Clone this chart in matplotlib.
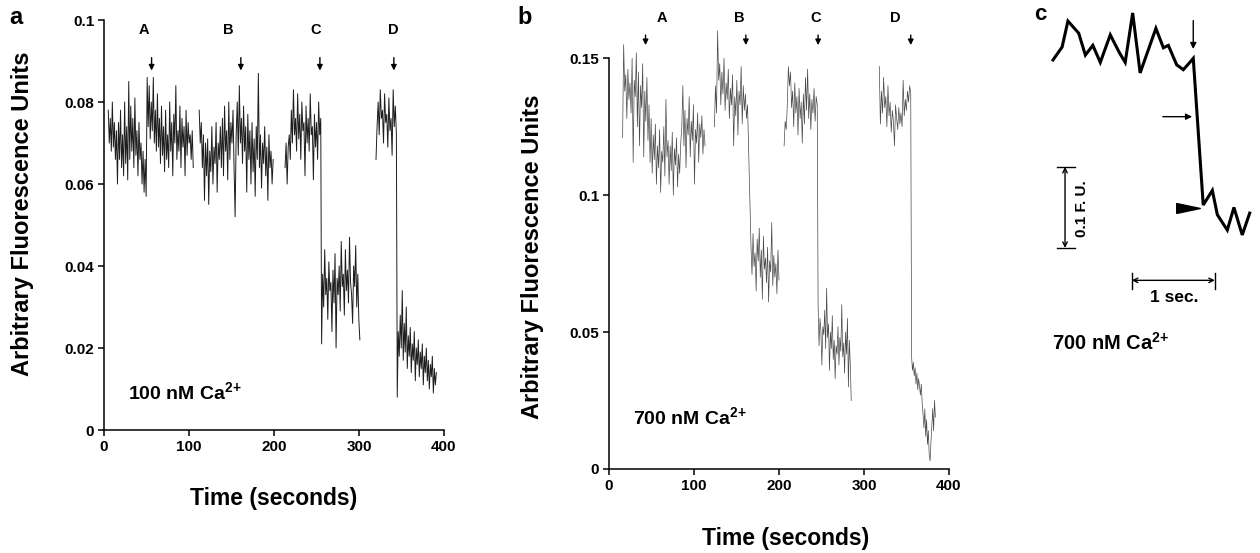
import numpy as np
import matplotlib.pyplot as plt
from matplotlib.ticker import FixedLocator, FixedFormatter

plt.rcParams['font.family'] = ['Liberation Sans', 'DejaVu Sans']
plt.rcParams['font.weight'] = 'bold'
plt.rcParams['mathtext.fontset'] = 'custom'
plt.rcParams['mathtext.rm'] = 'Liberation Sans:bold'
plt.rcParams['mathtext.bf'] = 'Liberation Sans:bold'
plt.rcParams['mathtext.it'] = 'Liberation Sans:bold'

# ---- panel a, 100 nM Ca2+ (values in 1e-3 fluorescence units) ----
a_A_span = (5, 105)
a_A = [78, 70, 76, 68, 80, 69, 75, 66,
       73, 60, 75, 66, 78, 64, 72, 62, 80, 65, 74, 61,
       85, 66, 79, 68, 76, 64, 81, 67, 73, 62, 75, 66,
       70, 60, 68, 58, 66, 57,
       86, 74, 84, 71, 80, 73, 86, 70, 78, 68, 82,
       69, 76, 65, 79, 67, 74, 63, 78, 66, 72, 64, 80, 68, 75, 62, 77, 70, 84,
       66, 73, 68, 79, 64, 76, 69, 74, 62, 78, 67, 75, 70, 72, 66, 73, 64]
a_B_span = (112, 199)
a_B = [78, 70, 75, 64, 72, 56, 70,
       62, 71, 55, 68, 63, 74, 60, 69, 65, 75, 58, 70,
       66, 74, 64, 76, 62, 79, 68, 73, 61, 80, 66, 75,
       70, 78, 64, 52, 72, 80, 67, 84, 70, 76, 65, 79,
       68, 74, 58, 77, 66, 73, 60, 75, 63, 71, 57, 74,
       66, 87, 64, 72, 59, 70, 65, 74, 62, 69, 56, 72, 64, 68, 60, 66]
a_C_hi_span = (213, 255)
a_C_hi = [64, 70, 60, 69, 72, 66, 78, 70, 83, 72, 76, 68, 82, 71, 77, 66, 80, 73,
          75, 62, 79, 70, 76, 68, 82, 72, 74, 61, 77, 69, 75, 66, 80, 72, 76]
a_C_lo_span = (256, 301)
a_C_lo = [21, 38, 30, 44, 33, 37, 27, 41, 34, 36, 24, 39, 31, 43, 20, 37, 33, 40, 29,
          46, 35, 38, 28, 44, 34, 39, 31, 47, 36, 33, 26, 40, 35, 45, 30, 38, 27, 22]
a_D_hi_span = (320, 344)
a_D_hi = [66, 74, 80, 72, 83, 76, 78, 70, 82, 75, 77, 69, 81, 73, 76, 67, 83, 74, 79, 72]
a_D_lo_span = (345, 391)
a_D_lo = [8, 24, 18, 28, 20, 34, 17, 26, 19, 30, 15, 23, 18, 25, 14, 21, 17, 24, 12, 20,
          16, 22, 13, 19, 15, 21, 11, 18, 14, 20, 12, 17, 10, 16, 13, 18, 9, 15, 11, 14]
a_arrow_t = [56, 161, 254, 341]
a_label_t = [46.5, 146.5, 249, 340.7]

# ---- panel b, 700 nM Ca2+ ----
b_A_span = (16, 113)
b_A = [121, 155, 138, 144, 128, 146, 135, 141,
       130, 150, 112, 142, 136, 152, 125, 145, 118, 140, 132, 148, 114, 138, 127, 143,
       120, 133, 112, 128,
       108, 122, 113, 126, 104, 118, 110, 124, 101, 116, 112, 125, 107, 135, 114, 120,
       104, 118, 109, 123, 100, 117, 111, 121, 103, 115, 108, 119,
       125, 140, 118, 131, 110, 128, 122, 136, 114, 127, 120, 133, 104, 124, 119, 130,
       112, 126, 121, 129, 115, 124, 118]
b_B_hi_span = (124, 163)
b_B_hi = [125, 140, 130, 160, 142, 148, 133, 145, 137, 150, 131, 141, 135, 146, 128, 139,
          133, 144, 118, 136, 129, 142, 122, 138, 133, 147, 126, 140, 131, 137, 128, 133]
b_B_lo_span = (167, 200)
b_B_lo = [82, 71, 86, 74, 79, 65, 84, 76, 88, 70, 80, 62, 85, 73, 77, 68, 81, 61, 76, 72,
          90, 67, 78, 70, 75, 64, 80, 69]
b_C_hi_span = (206, 245)
b_C_hi = [118, 127, 124, 133, 147, 140, 145, 132, 138, 125, 141, 130, 136, 122, 139, 128,
          134, 119, 137, 126, 143, 131, 146, 128, 137, 124, 135, 130, 139, 127, 136, 133]
b_C_lo_span = (246, 285)
b_C_lo = [60, 45, 55, 50, 38, 52, 49, 58, 44, 66, 48, 53, 36, 50, 44, 56, 40, 47, 33, 45,
          42, 52, 38, 48, 43, 60, 41, 46, 35, 50, 42, 55, 30, 47, 38, 25]
b_D_hi_span = (318, 355)
b_D_hi = [147, 126, 138, 130, 143, 132, 136, 125, 140, 129, 134, 123, 131, 127, 118, 133,
          128, 124, 132, 126, 130, 125, 142, 129, 135, 131, 138, 134, 140, 137]
b_D_lo_span = (356, 384)
b_D_lo = [41, 36, 39, 34, 37, 31, 35, 29, 33, 30, 27, 31, 24, 20, 15, 22, 12, 18, 9, 14,
          5, 3, 10, 16, 22, 14, 25, 19]
b_arrow_t = [43, 161, 246, 355]
b_label_t = [62, 153.6, 242.7, 336.5]

# ---- panel c, fast time course of one step (seconds, F.U.) ----
c_t = [0.00, 0.11, 0.18, 0.31, 0.39, 0.48, 0.57, 0.69, 0.80, 0.87, 0.96, 1.05, 1.24,
       1.33, 1.39, 1.49, 1.57, 1.64, 1.69, 1.81, 1.92, 1.98, 2.10, 2.18, 2.28, 2.37]
c_fu = [0.126, 0.142, 0.174, 0.159, 0.132, 0.144, 0.123, 0.157, 0.135, 0.123, 0.184,
        0.110, 0.165, 0.141, 0.144, 0.120, 0.114, 0.122, 0.128, -0.053, -0.035, -0.065,
        -0.084, -0.056, -0.090, -0.063]

step_labels = ['A', 'B', 'C', 'D']
ca_sup = '$^{2{+}}$'


def trace(*pieces):
    ts, ys = [], []
    for (t0, t1), v in pieces:
        ts.append(np.linspace(t0, t1, len(v)))
        ys.append(np.array(v) * 1e-3)
    return np.concatenate(ts), np.concatenate(ys)


fig = plt.figure(figsize=(12.6, 5.53), dpi=100)

ax_a = fig.add_axes([0.08254, 0.22242, 0.26984, 0.74141])
ax_b = fig.add_axes([0.48333, 0.15190, 0.26984, 0.74268])
ax_c = fig.add_axes([0.81746, 0.31284, 0.18254, 0.68716])


def style(ax, ymax, yticks, ylabels):
    ax.set_xlim(0, 400)
    ax.set_ylim(0, ymax)
    for s in ['top', 'right']:
        ax.spines[s].set_visible(False)
    for s in ['left', 'bottom']:
        ax.spines[s].set_linewidth(1.1)
    ax.xaxis.set_major_locator(FixedLocator([0, 100, 200, 300, 400]))
    ax.yaxis.set_major_locator(FixedLocator(yticks))
    ax.yaxis.set_major_formatter(FixedFormatter(ylabels))
    ax.tick_params(direction='out', length=4, width=1.1, labelsize=11, pad=3)
    for lab in ax.get_xticklabels() + ax.get_yticklabels():
        lab.set_fontweight('bold')


# panel a
style(ax_a, 0.1, [0, 0.02, 0.04, 0.06, 0.08, 0.1],
      ['0', '0.02', '0.04', '0.06', '0.08', '0.1'])
for pieces in [[(a_A_span, a_A)], [(a_B_span, a_B)],
               [(a_C_hi_span, a_C_hi), (a_C_lo_span, a_C_lo)],
               [(a_D_hi_span, a_D_hi), (a_D_lo_span, a_D_lo)]]:
    t, y = trace(*pieces)
    ax_a.plot(t, y, color='#1e1e1e', lw=0.7)
for t, lab, tl in zip(a_arrow_t, step_labels, a_label_t):
    ax_a.annotate('', xy=(t, 0.0870), xytext=(t, 0.0915),
                  arrowprops=dict(arrowstyle='-|>', lw=1.0, color='k', mutation_scale=8))
    ax_a.text(tl, 0.0975, lab, ha='center', va='center', fontsize=10.5, fontweight='bold')
ax_a.text(28, 0.0093, '100 nM Ca' + ca_sup, ha='left', va='center', fontsize=14,
          fontweight='bold')
ax_a.set_ylabel('Arbitrary Fluorescence Units', fontsize=17, fontweight='bold')
ax_a.yaxis.set_label_coords(-0.206, 0.527)
ax_a.set_xlabel('Time (seconds)', fontsize=16.5, fontweight='bold')
ax_a.xaxis.set_label_coords(0.5, -0.139)

# panel b
style(ax_b, 0.15, [0, 0.05, 0.1, 0.15], ['0', '0.05', '0.1', '0.15'])
for pieces in [[(b_A_span, b_A)],
               [(b_B_hi_span, b_B_hi), (b_B_lo_span, b_B_lo)],
               [(b_C_hi_span, b_C_hi), (b_C_lo_span, b_C_lo)],
               [(b_D_hi_span, b_D_hi), (b_D_lo_span, b_D_lo)]]:
    t, y = trace(*pieces)
    ax_b.plot(t, y, color='#4a4a4a', lw=0.5, clip_on=False)
for t, lab, tl in zip(b_arrow_t, step_labels, b_label_t):
    ax_b.annotate('', xy=(t, 0.1538), xytext=(t, 0.1595), annotation_clip=False,
                  arrowprops=dict(arrowstyle='-|>', lw=1.0, color='k', mutation_scale=8))
    ax_b.text(tl, 0.1647, lab, ha='center', va='center', fontsize=10.5, fontweight='bold',
              clip_on=False)
ax_b.text(28, 0.019, '700 nM Ca' + ca_sup, ha='left', va='center', fontsize=14,
          fontweight='bold')
ax_b.set_ylabel('Arbitrary Fluorescence Units', fontsize=17, fontweight='bold')
ax_b.yaxis.set_label_coords(-0.191, 0.516)
ax_b.set_xlabel('Time (seconds)', fontsize=16.5, fontweight='bold')
ax_b.xaxis.set_label_coords(0.52, -0.141)

# panel c
ax_c.set_xlim(-0.277, 2.494)
ax_c.set_ylim(-0.269, 0.20)
ax_c.axis('off')
ax_c.plot(c_t, c_fu, color='k', lw=2.2, solid_joinstyle='miter')
# scale bars
ax_c.annotate('', xy=(0.145, -0.006), xytext=(0.145, -0.106),
              arrowprops=dict(arrowstyle='<->', lw=1.0, color='k', mutation_scale=8,
                              shrinkA=0, shrinkB=0))
ax_c.plot([0.05, 0.265], [-0.006, -0.006], color='k', lw=1.0)
ax_c.plot([0.05, 0.265], [-0.106, -0.106], color='k', lw=1.0)
ax_c.text(0.35, -0.058, '0.1 F. U.', rotation=90, ha='center', va='center', fontsize=11,
          fontweight='bold')
ax_c.annotate('', xy=(0.95, -0.146), xytext=(1.95, -0.146),
              arrowprops=dict(arrowstyle='<->', lw=1.0, color='k', mutation_scale=8,
                              shrinkA=0, shrinkB=0))
ax_c.plot([0.95, 0.95], [-0.137, -0.157], color='k', lw=1.0)
ax_c.plot([1.95, 1.95], [-0.137, -0.157], color='k', lw=1.0)
ax_c.text(1.46, -0.167, '1 sec.', ha='center', va='center', fontsize=12.5, fontweight='bold')
ax_c.text(-0.01, -0.223, '700 nM Ca' + ca_sup, ha='left', va='center', fontsize=14.5,
          fontweight='bold')
# event markers
ax_c.annotate('', xy=(1.69, 0.136), xytext=(1.69, 0.178),
              arrowprops=dict(arrowstyle='-|>', lw=1.0, color='k', mutation_scale=9))
ax_c.annotate('', xy=(1.71, 0.056), xytext=(1.29, 0.056),
              arrowprops=dict(arrowstyle='-|>', lw=1.0, color='k', mutation_scale=9))
ax_c.plot([1.63], [-0.057], marker=[(-1, -0.42), (1, 0), (-1, 0.42), (-1, -0.42)],
          markersize=17, color='k')

fig.text(16 / 1260, 1 - 17 / 553, 'a', fontsize=17, fontweight='bold', ha='center', va='center')
fig.text(525 / 1260, 1 - 17 / 553, 'b', fontsize=17, fontweight='bold', ha='center', va='center')
fig.text(1040 / 1260, 1 - 14 / 553, 'c', fontsize=16, fontweight='bold', ha='center', va='center')

fig.savefig('out.png', dpi=100)
